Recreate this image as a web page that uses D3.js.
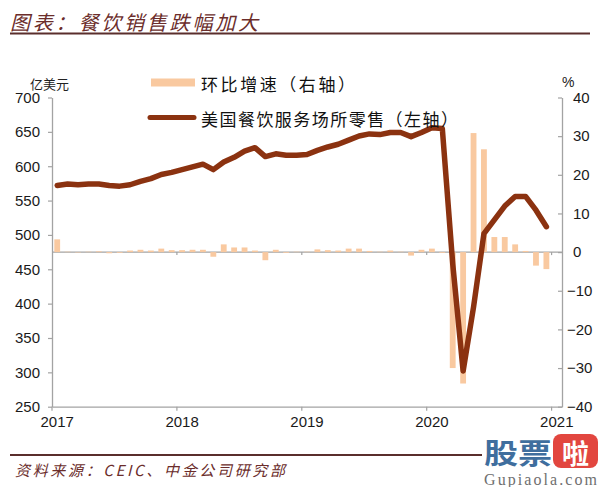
<!DOCTYPE html>
<html><head><meta charset="utf-8">
<script src="https://cdn.jsdelivr.net/npm/d3@7"></script>
<style>body{margin:0;background:#fff} svg{display:block}</style>
</head><body><svg id="c" width="600" height="487"></svg>
<script>
// ---- data ----
const yearLabels = ["2017","2018","2019","2020","2021"];
const months = [];
yearLabels.forEach(y => { for (let m = 1; m <= 12; m++) { if (y === "2021" && m > 1) break; months.push(y + "-" + String(m).padStart(2, "0")); } });
// 美国餐饮服务场所零售 (亿美元), Jan 2017 - Dec 2020
const retail = [
  572, 574, 573, 574, 574, 572, 571, 573, 578, 582, 588, 591,
  595, 599, 603, 595, 606, 613, 622, 627, 614, 618, 616, 616,
  617, 623, 628, 632, 638, 644, 647, 646, 649, 649, 643, 649,
  656, 655, 458, 302, 395, 502, 522, 542, 556, 556, 536, 512
];
// 环比增速 (%)
const mom = [
  3.3, 0.1, -0.1, 0.1, 0.2, -0.3, -0.2, 0.4, 0.6, 0.4, 0.9, 0.5,
  0.5, 0.6, 0.6, -1.2, 2.0, 1.2, 1.2, 0.4, -2.1, 0.6, -0.2, 0.1,
  0.1, 0.7, 0.5, 0.4, 0.9, 0.9, 0.3, 0.1, 0.4, 0.1, -0.9, 0.6,
  0.9, -0.2, -30.0, -34.0, 30.8, 26.6, 3.9, 3.9, 2.0, 0.3, -3.5, -4.4
];
const leftTicks = [250, 300, 350, 400, 450, 500, 550, 600, 650, 700];
const rightTicks = [-40, -30, -20, -10, 0, 10, 20, 30, 40];
const seriesNames = ["环比增速（右轴）", "美国餐饮服务场所零售（左轴）"];

// ---- layout ----
const svg = d3.select("#c");
const L = 52, R = 562, T = 97.5, B = 406.7;
const x = d3.scaleBand().domain(months).range([L, R]);
const step = x.step();
const yL = d3.scaleLinear().domain([250, 700]).range([B, T]);
const yR = d3.scaleLinear().domain([-40, 40]).range([B, T]);
const dataMonths = months.slice(0, retail.length);
const janMonths = yearLabels.map(y => y + "-01");
const axisColor = "#a3a3a3";
const numFont = "'Liberation Sans', Arial, sans-serif";
const cjkFont = "'Noto Sans CJK SC', sans-serif";
const brown = "#6b2d2b";

// title
svg.append("text").attr("x", 10).attr("y", 21).attr("dominant-baseline", "central")
  .attr("font-family", cjkFont).attr("font-size", 20).attr("font-style", "italic")
  .attr("fill", brown).attr("textLength", 248).attr("lengthAdjust", "spacing")
  .text("图表：餐饮销售跌幅加大");
svg.append("line").attr("x1", 10).attr("x2", 590).attr("y1", 33.5).attr("y2", 33.5)
  .attr("stroke", "#5a2e2c").attr("stroke-width", 2);

// zero line (category axis)
svg.append("line").attr("x1", L).attr("x2", R).attr("y1", yR(0)).attr("y2", yR(0))
  .attr("stroke", axisColor).attr("stroke-width", 1.2);
svg.append("g").selectAll("line").data(janMonths.slice(1)).join("line")
  .attr("x1", d => x(d)).attr("x2", d => x(d)).attr("y1", yR(0)).attr("y2", yR(0) + 3)
  .attr("stroke", axisColor).attr("stroke-width", 1.2);

// bars
svg.append("g").selectAll("rect").data(mom).join("rect")
  .attr("x", (d, i) => x(dataMonths[i]) + step * 0.22)
  .attr("width", step * 0.56)
  .attr("y", d => yR(Math.max(d, 0)))
  .attr("height", d => Math.abs(yR(d) - yR(0)))
  .attr("fill", "#f9c9a0");

// line
const line = d3.line().x((d, i) => x(dataMonths[i]) + step / 2).y(d => yL(d));
svg.append("path").datum(retail).attr("d", line)
  .attr("fill", "none").attr("stroke", "#8b3210").attr("stroke-width", 5.5)
  .attr("stroke-linejoin", "round").attr("stroke-linecap", "round");

// left axis
const gl = svg.append("g").attr("transform", `translate(${L},0)`)
  .call(d3.axisLeft(yL).tickValues(leftTicks).tickSizeInner(4).tickSizeOuter(0).tickPadding(8));
// right axis
const gr = svg.append("g").attr("transform", `translate(${R},0)`)
  .call(d3.axisRight(yR).tickValues(rightTicks).tickSizeInner(-4).tickSizeOuter(0).tickPadding(11));
gr.selectAll(".tick text").attr("dx", d => d < 0 ? -6 : 0);
// bottom axis
const gb = svg.append("g").attr("transform", `translate(0,${B})`)
  .call(d3.axisBottom(x).tickValues(janMonths).tickFormat(m => m.slice(0, 4)).tickSizeInner(0).tickSizeOuter(0).tickPadding(10));
svg.append("g").selectAll("line").data(janMonths).join("line")
  .attr("x1", d => x(d)).attr("x2", d => x(d)).attr("y1", B).attr("y2", B + 4)
  .attr("stroke", axisColor).attr("stroke-width", 1.2);

[gl, gr, gb].forEach(g => {
  g.selectAll(".domain").attr("stroke", axisColor).attr("stroke-width", 1.3);
  g.selectAll(".tick line").attr("stroke", axisColor).attr("stroke-width", 1.2);
  g.selectAll(".tick text").attr("font-family", numFont).attr("font-size", 15).attr("fill", "#1a1a1a");
});

// axis units
svg.append("text").attr("x", 30).attr("y", 83).attr("dominant-baseline", "central")
  .attr("font-family", cjkFont).attr("font-size", 13).attr("fill", "#222").text("亿美元");
svg.append("text").attr("x", 562).attr("y", 82).attr("dominant-baseline", "central")
  .attr("font-family", numFont).attr("font-size", 14).attr("fill", "#222").text("%");

// legend
svg.append("rect").attr("x", 151).attr("y", 78.5).attr("width", 44).attr("height", 8).attr("fill", "#f9c9a0");
svg.append("line").attr("x1", 150).attr("x2", 194).attr("y1", 117.5).attr("y2", 117.5)
  .attr("stroke", "#8b3210").attr("stroke-width", 5).attr("stroke-linecap", "round");
svg.append("text").attr("x", 201).attr("y", 83).attr("dominant-baseline", "central")
  .attr("font-family", cjkFont).attr("font-size", 17).attr("fill", "#111")
  .attr("textLength", 154).attr("lengthAdjust", "spacing").text(seriesNames[0]);
svg.append("text").attr("x", 201).attr("y", 118).attr("dominant-baseline", "central")
  .attr("font-family", cjkFont).attr("font-size", 17).attr("fill", "#111")
  .attr("textLength", 257).attr("lengthAdjust", "spacing").text(seriesNames[1]);

// footer
svg.append("line").attr("x1", 10).attr("x2", 482).attr("y1", 455).attr("y2", 455)
  .attr("stroke", "#5a2e2c").attr("stroke-width", 2);
svg.append("text").attr("x", 15).attr("y", 469).attr("dominant-baseline", "central")
  .attr("font-family", cjkFont).attr("font-size", 15).attr("font-style", "italic")
  .attr("fill", brown).attr("textLength", 270).attr("lengthAdjust", "spacing")
  .text("资料来源：CEIC、中金公司研究部");

// watermark
svg.append("text").attr("x", 484).attr("y", 452).attr("dominant-baseline", "central")
  .attr("font-family", cjkFont).attr("font-size", 28).attr("font-weight", "bold")
  .attr("fill", "#3f6e9e").attr("textLength", 68).attr("lengthAdjust", "spacingAndGlyphs").text("股票");
svg.append("rect").attr("x", 553).attr("y", 434).attr("width", 45).attr("height", 34).attr("rx", 8)
  .attr("fill", "#e2463f");
svg.append("text").attr("x", 575.5).attr("y", 452).attr("dominant-baseline", "central").attr("text-anchor", "middle")
  .attr("font-family", cjkFont).attr("font-size", 27).attr("font-weight", "bold")
  .attr("fill", "#fff").text("啦");
svg.append("text").attr("x", 484).attr("y", 479).attr("dominant-baseline", "central")
  .attr("font-family", "'Liberation Serif', serif").attr("font-size", 16)
  .attr("fill", "#6f6f6f").attr("textLength", 113).attr("lengthAdjust", "spacing").text("Gupiaola.com");
</script></body></html>
